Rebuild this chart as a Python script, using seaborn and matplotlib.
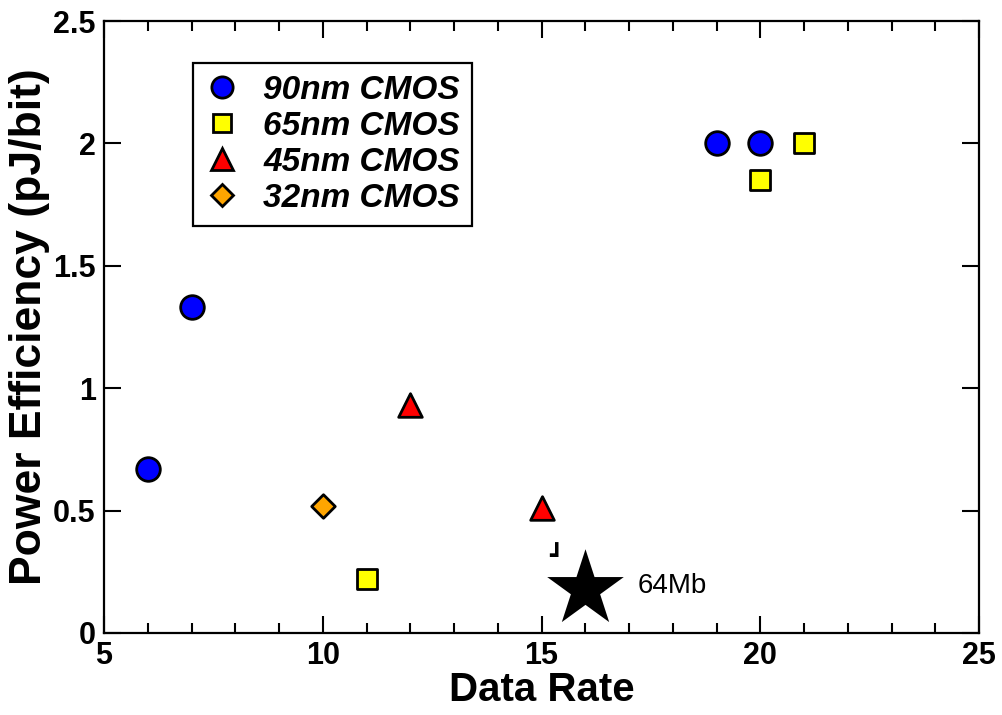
import matplotlib
matplotlib.use("Agg")
import matplotlib.pyplot as plt
import seaborn as sns
import pandas as pd
from matplotlib.lines import Line2D
from matplotlib.ticker import MultipleLocator

# ---- data ----
cmos90_x = [6, 7, 19, 20]
cmos90_y = [0.67, 1.33, 2.0, 2.0]
cmos65_x = [11, 20, 21]
cmos65_y = [0.22, 1.85, 2.0]
cmos45_x = [12, 15]
cmos45_y = [0.93, 0.51]
cmos32_x = [10]
cmos32_y = [0.52]
star_x = [16]
star_y = [0.18]
star_label = "64Mb"
series_names = ["90nm CMOS", "65nm CMOS", "45nm CMOS", "32nm CMOS"]
series_colors = ["#0000FF", "#FFFF00", "#FF0000", "#FFA500"]
series_markers = ["o", "s", "^", "D"]
series_sizes = [17, 15, 17, 12]

sns.set_style("ticks")
plt.rcParams['font.family'] = ['Liberation Sans', 'DejaVu Sans']
plt.rcParams['text.color'] = 'black'
plt.rcParams['axes.labelcolor'] = 'black'
plt.rcParams['xtick.color'] = 'black'
plt.rcParams['ytick.color'] = 'black'

df = pd.concat([
    pd.DataFrame({"x": cmos90_x, "y": cmos90_y, "tech": series_names[0]}),
    pd.DataFrame({"x": cmos65_x, "y": cmos65_y, "tech": series_names[1]}),
    pd.DataFrame({"x": cmos45_x, "y": cmos45_y, "tech": series_names[2]}),
    pd.DataFrame({"x": cmos32_x, "y": cmos32_y, "tech": series_names[3]}),
], ignore_index=True)

fig = plt.figure(figsize=(10.03, 7.15), dpi=100)
ax = fig.add_axes([0.1037, 0.1147, 0.8724, 0.8559])

for name, col, mk, ms in zip(series_names, series_colors, series_markers, series_sizes):
    sub = df[df["tech"] == name]
    sns.scatterplot(data=sub, x="x", y="y", ax=ax, color=col, marker=mk,
                    s=ms ** 2, edgecolor="black", linewidth=2.0, legend=False, zorder=3)

sns.scatterplot(x=star_x, y=star_y, ax=ax, color="black", marker="*", s=58 ** 2,
                edgecolor="black", linewidth=0, legend=False, zorder=3)
ax.text(star_x[0] + 1.2, star_y[0] + 0.01, star_label, fontsize=20,
        va="center", ha="left", color="black")
ax.text(15.32, 0.31, "┛", fontsize=16, fontweight="bold", family=['DejaVu Sans'],
        va="center", ha="center", color="black")

ax.set_xlim(5, 25)
ax.set_ylim(0, 2.5)
ax.xaxis.set_major_locator(MultipleLocator(5))
ax.xaxis.set_minor_locator(MultipleLocator(1))
ax.yaxis.set_major_locator(MultipleLocator(0.5))
ax.tick_params(which="both", direction="in", top=True, right=True, width=1.5, color="black")
ax.tick_params(which="major", length=12, labelsize=22, pad=6)
ax.tick_params(which="minor", length=7)
ax.set_yticks([0, 0.5, 1, 1.5, 2, 2.5])
ax.set_yticklabels(["0", "0.5", "1", "1.5", "2", "2.5"], fontweight="bold")
ax.set_xticks([5, 10, 15, 20, 25])
ax.set_xticklabels(["5", "10", "15", "20", "25"], fontweight="bold")
for sp in ax.spines.values():
    sp.set_linewidth(1.6)
    sp.set_color("black")

ax.set_xlabel("Data Rate", fontsize=29, fontweight="bold", labelpad=0)
ax.set_ylabel("Power Efficiency (pJ/bit)", fontsize=32, fontweight="bold", labelpad=2)

handles = [Line2D([], [], linestyle="none", marker=mk, markersize=ms * 0.9,
                  markerfacecolor=col, markeredgecolor="black", markeredgewidth=2.0)
           for col, mk, ms in zip(series_colors, series_markers, series_sizes)]
leg = ax.legend(handles, series_names, loc="upper left", bbox_to_anchor=(0.102, 0.931),
                borderaxespad=0, frameon=True, fancybox=False, edgecolor="black",
                prop={"size": 24, "weight": "bold", "style": "italic"},
                handletextpad=0.75, labelspacing=0.15, borderpad=0.35, handlelength=1.0)
leg.get_frame().set_linewidth(1.6)
leg.get_frame().set_alpha(1)

fig.savefig("out.png", dpi=100)
